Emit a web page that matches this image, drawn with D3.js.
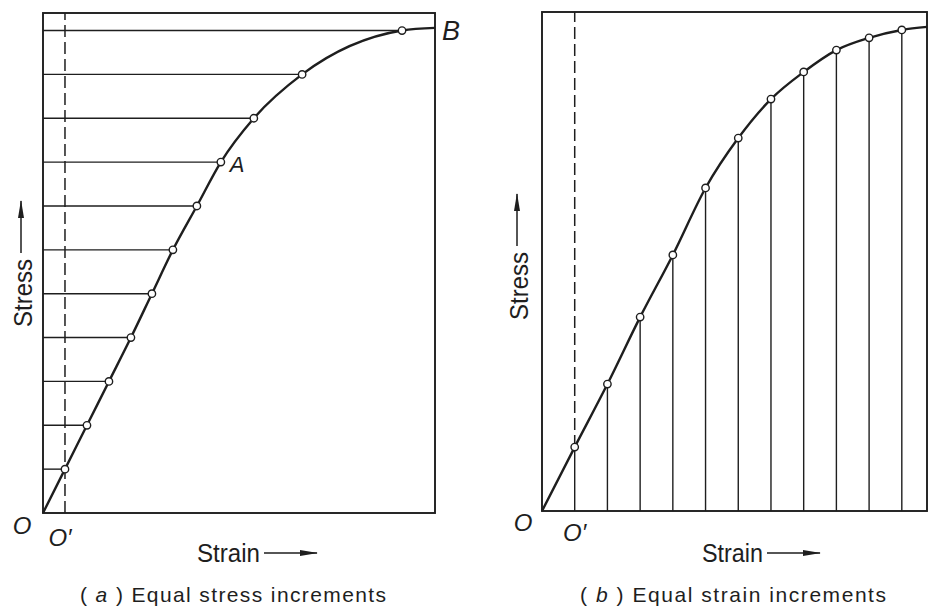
<!DOCTYPE html>
<html>
<head>
<meta charset="utf-8">
<script src="https://cdn.jsdelivr.net/npm/d3@7"></script>
<style>
  body { margin: 0; background: #fff; }
  svg { display: block; }
</style>
</head>
<body>
<svg id="fig" width="928" height="609"></svg>
<script>
// Stress-strain curve sampled two ways.
// (a) equal stress increments: stress level and the strain reached at it
const stressLevelsA  = [1, 2, 3, 4, 5, 6, 7, 8, 9, 10, 11];
const strainAtLevelA = [0.66, 1.32, 1.98, 2.64, 3.27, 3.90, 4.62, 5.34, 6.33, 7.78, 10.78];
// (b) equal strain increments: strain step and the stress reached at it
const strainStepsB   = [1, 2, 3, 4, 5, 6, 7, 8, 9, 10, 11];
const stressAtStepB  = [1.46, 2.90, 4.43, 5.85, 7.38, 8.52, 9.41, 10.03, 10.53, 10.81, 10.99];
// curve starts at the origin and runs out to the frame edge
const curveStart = [0, 0];
const curveEnd   = [11.77, 11.06];
// axis extents (arbitrary units)
const strainMax = 11.77;
const stressMax = 11.4;
// text
const axisTitles = { x: "Strain", y: "Stress" };
const captionsText = [
  { letter: "a", rest: "Equal stress increments" },
  { letter: "b", rest: "Equal strain increments" }
];
const pointLabels = ["A", "B"];

const ink = "#1e1e1e";
const svg = d3.select("#fig");

svg.append("rect").attr("width", 928).attr("height", 609).attr("fill", "#fff");

// arrowhead for the axis-direction arrows
svg.append("defs").append("marker")
  .attr("id", "head")
  .attr("markerUnits", "userSpaceOnUse")
  .attr("viewBox", "0 0 18 6")
  .attr("refX", 17).attr("refY", 3)
  .attr("markerWidth", 18).attr("markerHeight", 6)
  .attr("orient", "auto")
  .append("path").attr("d", "M0,0 L18,3 L0,6 Z").attr("fill", ink);

const font = "'Liberation Sans', Arial, sans-serif";

function panel(cfg) {
  const x = d3.scaleLinear().domain([0, strainMax]).range(cfg.xr);
  const y = d3.scaleLinear().domain([0, stressMax]).range(cfg.yr);
  const g = svg.append("g");

  const pts = cfg.strain.map((s, i) => [s, cfg.stress[i]]);
  const curvePts = [curveStart, ...pts, curveEnd];

  // increment guide lines
  if (cfg.mode === "stress") {
    g.selectAll("line.guide").data(pts).join("line")
      .attr("class", "guide")
      .attr("x1", x(0)).attr("x2", d => x(d[0]))
      .attr("y1", d => y(d[1])).attr("y2", d => y(d[1]))
      .attr("stroke", ink).attr("stroke-width", 1.4);
  } else {
    g.selectAll("line.guide").data(pts).join("line")
      .attr("class", "guide")
      .attr("x1", d => x(d[0])).attr("x2", d => x(d[0]))
      .attr("y1", y(0)).attr("y2", d => y(d[1]))
      .attr("stroke", ink).attr("stroke-width", 1.4);
  }

  // dashed line through O' (first increment point)
  const o2 = pts[0];
  g.append("line")
    .attr("x1", x(o2[0])).attr("x2", x(o2[0]))
    .attr("y1", cfg.mode === "stress" ? y(0) : y(o2[1]))
    .attr("y2", y(stressMax))
    .attr("stroke", ink).attr("stroke-width", 1.5)
    .attr("stroke-dasharray", "12,5");

  // frame
  g.append("rect")
    .attr("x", x(0)).attr("y", y(stressMax))
    .attr("width", x(strainMax) - x(0))
    .attr("height", y(0) - y(stressMax))
    .attr("fill", "none").attr("stroke", ink).attr("stroke-width", 1.9);

  // stress-strain curve
  const line = d3.line().x(d => x(d[0])).y(d => y(d[1])).curve(d3.curveMonotoneX);
  g.append("path").datum(curvePts)
    .attr("d", line)
    .attr("fill", "none").attr("stroke", ink).attr("stroke-width", 2.4);

  // increment points
  g.selectAll("circle").data(pts).join("circle")
    .attr("cx", d => x(d[0])).attr("cy", d => y(d[1]))
    .attr("r", 3.7)
    .attr("fill", "#fff").attr("stroke", ink).attr("stroke-width", 1.4);

  // origin labels
  g.append("text")
    .attr("x", x(0) + cfg.oDx).attr("y", y(0) + cfg.oDy)
    .attr("text-anchor", "middle")
    .attr("font-family", font).attr("font-style", "italic").attr("font-size", 24)
    .attr("fill", ink).text("O");
  g.append("text")
    .attr("x", x(o2[0]) + cfg.o2Dx).attr("y", y(0) + cfg.o2Dy)
    .attr("text-anchor", "middle")
    .attr("font-family", font).attr("font-style", "italic").attr("font-size", 24)
    .attr("fill", ink).text("O\u2032");

  // axis titles with direction arrows
  g.append("text")
    .attr("x", cfg.strainX).attr("y", 562)
    .attr("font-family", font).attr("font-size", 26)
    .attr("textLength", cfg.strainLen).attr("lengthAdjust", "spacingAndGlyphs")
    .attr("fill", ink).text(axisTitles.x);
  g.append("line")
    .attr("x1", cfg.strainX + cfg.strainLen + 4).attr("x2", cfg.strainX + cfg.strainLen + 57)
    .attr("y1", 553).attr("y2", 553)
    .attr("stroke", ink).attr("stroke-width", 1.5)
    .attr("marker-end", "url(#head)");

  g.append("text")
    .attr("transform", `translate(${cfg.stressBase},${cfg.stressY}) rotate(-90)`)
    .attr("font-family", font).attr("font-size", 26)
    .attr("textLength", 68).attr("lengthAdjust", "spacingAndGlyphs")
    .attr("fill", ink).text(axisTitles.y);
  g.append("line")
    .attr("x1", cfg.stressBase - 11).attr("x2", cfg.stressBase - 11)
    .attr("y1", cfg.stressY - 74).attr("y2", cfg.stressY - 126)
    .attr("stroke", ink).attr("stroke-width", 1.5)
    .attr("marker-end", "url(#head)");

  // caption
  const cap = g.append("text")
    .attr("x", cfg.capX).attr("y", 602)
    .attr("font-family", font).attr("font-size", 21)
    .attr("textLength", 306).attr("lengthAdjust", "spacing")
    .attr("fill", ink);
  cap.append("tspan").text("( ");
  cap.append("tspan").attr("font-style", "italic").text(cfg.caption.letter);
  cap.append("tspan").text(" ) " + cfg.caption.rest);

  return { x, y, g, pts };
}

const pa = panel({
  mode: "stress", xr: [43, 435], yr: [513, 13],
  strain: strainAtLevelA, stress: stressLevelsA,
  oDx: -21, oDy: 21, o2Dx: -5, o2Dy: 33,
  strainX: 197, strainLen: 63,
  stressBase: 32, stressY: 327,
  capX: 80, caption: captionsText[0]
});

const pb = panel({
  mode: "strain", xr: [542, 927], yr: [511, 12],
  strain: strainStepsB, stress: stressAtStepB,
  oDx: -19, oDy: 20, o2Dx: 0, o2Dy: 30,
  strainX: 702, strainLen: 61,
  stressBase: 528, stressY: 320,
  capX: 580, caption: captionsText[1]
});

// point labels on panel (a)
const ptA = pa.pts[7];
pa.g.append("text")
  .attr("x", pa.x(ptA[0]) + 9).attr("y", pa.y(ptA[1]) + 10)
  .attr("font-family", font).attr("font-style", "italic").attr("font-size", 22)
  .attr("fill", ink).text(pointLabels[0]);
pa.g.append("text")
  .attr("x", pa.x(curveEnd[0]) + 7).attr("y", pa.y(curveEnd[1]) + 12)
  .attr("font-family", font).attr("font-style", "italic").attr("font-size", 27)
  .attr("fill", ink).text(pointLabels[1]);
</script>
</body>
</html>
